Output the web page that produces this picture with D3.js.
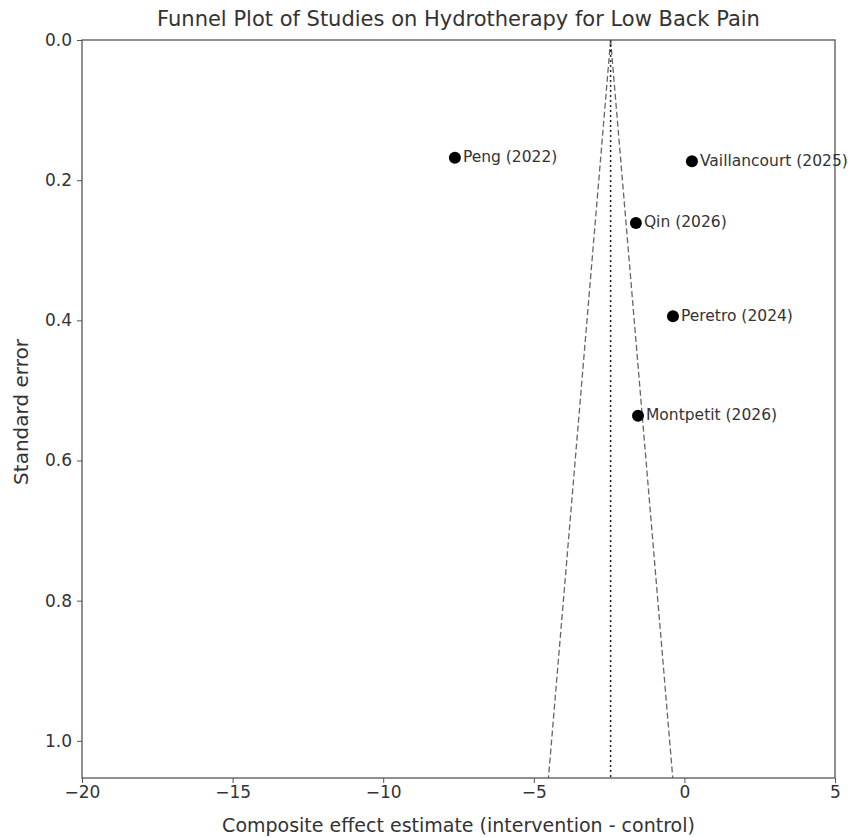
<!DOCTYPE html>
<html>
<head>
<meta charset="utf-8">
<script src="https://cdn.jsdelivr.net/npm/d3@7"></script>
<style>
  body { margin: 0; background: #fff; }
  text { font-family: "DejaVu Sans", sans-serif; }
</style>
</head>
<body>
<div id="chart"></div>
<script>
// study data
const studies = ['Peng (2022)', 'Vaillancourt (2025)', 'Qin (2026)', 'Peretro (2024)', 'Montpetit (2026)'];
const effects = [-7.62, 0.25, -1.61, -0.38, -1.54];
const stdErrors = [0.168, 0.173, 0.261, 0.394, 0.536];
const pooled = -2.45;
const seMax = 1.053;
const xTicks = [-20, -15, -10, -5, 0, 5];
const yTicks = [0.0, 0.2, 0.4, 0.6, 0.8, 1.0];

const size = { width: 848, height: 837 };
const margin = { top: 40, right: 13, bottom: 59, left: 82 };

const svg = d3.select('#chart')
  .append('svg')
  .attr('width', size.width)
  .attr('height', size.height);

const x = d3.scaleLinear()
  .domain([-20, 5])
  .range([margin.left, size.width - margin.right]);

const y = d3.scaleLinear()
  .domain([0, seMax])
  .range([margin.top, size.height - margin.bottom]);

const textColor = '#333';
const axisColor = '#555';

// funnel: pseudo 95% limits
const funnel = [
  [[pooled, 0], [pooled - 1.96 * seMax, seMax]],
  [[pooled, 0], [pooled + 1.96 * seMax, seMax]],
];
svg.selectAll('.funnel')
  .data(funnel)
  .join('line')
  .attr('x1', (d) => x(d[0][0]))
  .attr('y1', (d) => y(d[0][1]))
  .attr('x2', (d) => x(d[1][0]))
  .attr('y2', (d) => y(d[1][1]))
  .attr('stroke', '#666')
  .attr('stroke-width', 1.3)
  .attr('stroke-dasharray', '6,3');

// pooled estimate
svg.append('line')
  .attr('x1', x(pooled))
  .attr('x2', x(pooled))
  .attr('y1', y(0))
  .attr('y2', y(seMax))
  .attr('stroke', '#222')
  .attr('stroke-width', 1.5)
  .attr('stroke-dasharray', '2,3');

// axes
const xAxis = svg.append('g')
  .attr('transform', `translate(0, ${size.height - margin.bottom})`)
  .call(d3.axisBottom(x).tickValues(xTicks).tickSize(5).tickPadding(3)
    .tickFormat((d) => d3.format('d')(d).replace('-', '\u2212')));

const yAxis = svg.append('g')
  .attr('transform', `translate(${margin.left}, 0)`)
  .call(d3.axisLeft(y).tickValues(yTicks).tickSize(5).tickPadding(5)
    .tickFormat(d3.format('.1f')));

[xAxis, yAxis].forEach((g) => {
  g.select('.domain').remove();
  g.selectAll('line').attr('stroke', axisColor);
  g.selectAll('text')
    .attr('fill', textColor)
    .style('font-size', '17px');
});

// frame
svg.append('rect')
  .attr('x', margin.left)
  .attr('y', margin.top)
  .attr('width', size.width - margin.right - margin.left)
  .attr('height', size.height - margin.bottom - margin.top)
  .attr('fill', 'none')
  .attr('stroke', axisColor)
  .attr('stroke-width', 1.3);

// points
const pts = svg.selectAll('.study')
  .data(studies.map((s, i) => ({ name: s, eff: effects[i], se: stdErrors[i] })))
  .join('g');

pts.append('circle')
  .attr('cx', (d) => x(d.eff))
  .attr('cy', (d) => y(d.se))
  .attr('r', 6)
  .attr('fill', '#000');

pts.append('text')
  .attr('x', (d) => x(d.eff) + 8)
  .attr('y', (d) => y(d.se))
  .attr('dominant-baseline', 'middle')
  .attr('fill', textColor)
  .style('font-size', '15.5px')
  .text((d) => d.name);

// titles
svg.append('text')
  .attr('x', (margin.left + size.width - margin.right) / 2)
  .attr('y', 26)
  .attr('text-anchor', 'middle')
  .attr('fill', textColor)
  .style('font-size', '21px')
  .text('Funnel Plot of Studies on Hydrotherapy for Low Back Pain');

svg.append('text')
  .attr('x', (margin.left + size.width - margin.right) / 2)
  .attr('y', 832)
  .attr('text-anchor', 'middle')
  .attr('fill', textColor)
  .style('font-size', '19px')
  .text('Composite effect estimate (intervention - control)');

svg.append('text')
  .attr('transform', `translate(28, ${(margin.top + size.height - margin.bottom) / 2 + 3}) rotate(-90)`)
  .attr('text-anchor', 'middle')
  .attr('fill', textColor)
  .style('font-size', '20px')
  .text('Standard error');
</script>
</body>
</html>
